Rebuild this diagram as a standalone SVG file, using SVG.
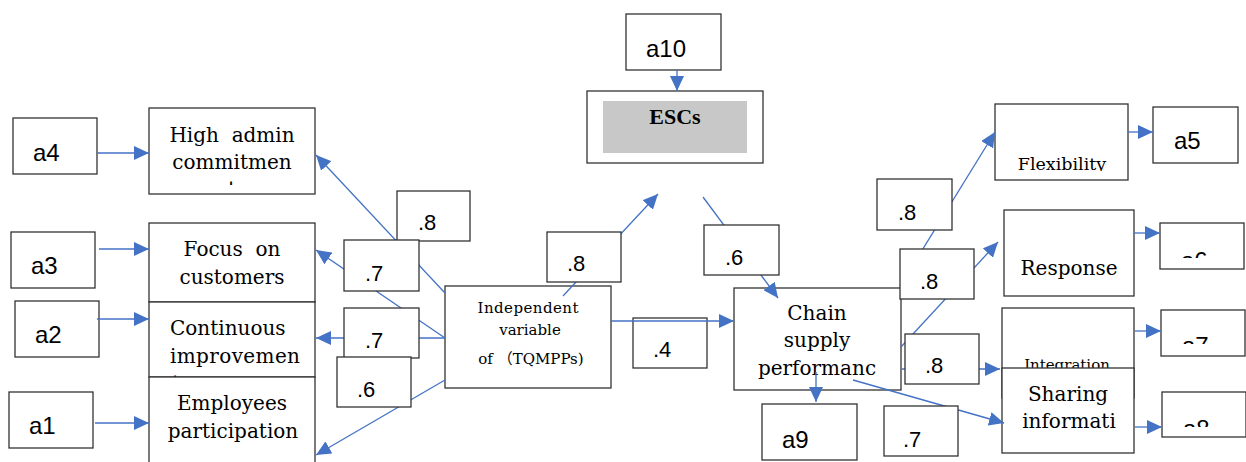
<svg xmlns="http://www.w3.org/2000/svg" width="1246" height="462" viewBox="0 0 1246 462">
<style>
.box{fill:#fff;stroke:#333;stroke-width:1.3}
.nf{fill:none;stroke:#333;stroke-width:1.3}
.serif{font-family:"DejaVu Serif","Liberation Serif","Noto Sans CJK SC",serif;fill:#000;font-size:20px}
.sm{font-size:15px}
.md{font-size:17.5px}
.ctr{text-anchor:middle}
.sans{font-family:"Liberation Sans",Arial,sans-serif;font-size:24px;fill:#000}
.lbl{font-family:"Liberation Sans",Arial,sans-serif;font-size:22px;fill:#000}
.conn{stroke:#4472C4;stroke-width:1.3;fill:none}
.arr{marker-end:url(#ah)}
</style>
<defs>
<marker id="ah" markerUnits="userSpaceOnUse" markerWidth="16" markerHeight="14" refX="15" refY="7" orient="auto">
<path d="M0,0 L15,7 L0,14 z" fill="#4472C4"/>
</marker>
<clipPath id="cFlex"><rect x="995" y="104" width="133" height="67"/></clipPath>
<clipPath id="cA6"><rect x="1160" y="223" width="84" height="35"/></clipPath>
<clipPath id="cA7"><rect x="1161" y="310" width="84" height="34"/></clipPath>
<clipPath id="cA8"><rect x="1162" y="392" width="84" height="35"/></clipPath>
<clipPath id="cHigh"><rect x="149" y="108" width="166" height="77"/></clipPath>
<clipPath id="cCont"><rect x="149" y="302" width="166" height="75"/></clipPath>
</defs>
<rect width="1246" height="462" fill="#fff"/>

<g id="nodes">
<g id="a4"><rect class="box" x="13" y="118" width="84" height="56"/><text class="sans" x="33" y="161">a4</text></g>
<g id="a3"><rect class="box" x="11" y="232" width="84" height="56"/><text class="sans" x="31" y="274">a3</text></g>
<g id="a2"><rect class="box" x="15" y="301" width="84" height="56"/><text class="sans" x="35" y="343">a2</text></g>
<g id="a1"><rect class="box" x="9" y="392" width="84" height="56"/><text class="sans" x="29" y="434">a1</text></g>
<g id="high-admin"><rect class="box" x="149" y="108" width="166" height="86"/>
<text class="serif ctr" x="232" y="142" xml:space="preserve">High  admin</text>
<text class="serif ctr" x="232" y="169">commitmen</text>
<text class="serif ctr" x="232" y="196" clip-path="url(#cHigh)">t</text></g>
<g id="focus"><rect class="box" x="149" y="223" width="166" height="79"/>
<text class="serif ctr" x="232" y="256" xml:space="preserve">Focus  on</text>
<text class="serif ctr" x="232" y="284">customers</text></g>
<g id="continuous"><rect class="box" x="149" y="302" width="166" height="75"/>
<text class="serif" x="170" y="335">Continuous</text>
<text class="serif" x="170" y="363" textLength="130">improvemen</text>
<text class="serif" x="172" y="390" clip-path="url(#cCont)">t</text></g>
<g id="employees"><rect class="box" x="149" y="377" width="166" height="100"/>
<text class="serif ctr" x="232" y="410">Employees</text>
<text class="serif ctr" x="233" y="438">participation</text></g>
<g id="independent"><rect class="box" x="445" y="286" width="166" height="102"/>
<text class="serif sm ctr" x="528" y="313" textLength="101">Independent</text>
<text class="serif sm ctr" x="530" y="335">variable</text>
<text class="serif sm ctr" x="531" y="364">of （TQMPPs)</text></g>
<g id="a10"><rect class="box" x="626" y="14" width="95" height="56"/><text class="sans" x="646" y="57">a10</text></g>
<g id="escs"><rect class="box" x="587" y="91" width="176" height="72"/>
<rect x="603" y="101" width="144" height="52" fill="#C8C8C8"/>
<text x="675" y="124" text-anchor="middle" font-family="'Liberation Serif',serif" font-weight="bold" font-size="22">ESCs</text></g>
<g id="chain"><rect class="box" x="734" y="288" width="167" height="102"/>
<text class="serif ctr" x="817" y="320">Chain</text>
<text class="serif ctr" x="817" y="347">supply</text>
<text class="serif ctr" x="817" y="375">performanc</text></g>
<g id="a9"><rect class="box" x="762" y="404" width="95" height="56"/><text class="sans" x="782" y="448">a9</text></g>
<g id="flexibility"><rect class="box" x="995" y="104" width="133" height="76"/>
<text class="serif md ctr" x="1062" y="170" clip-path="url(#cFlex)">Flexibility</text></g>
<g id="a5"><rect class="box" x="1153" y="107" width="85" height="56"/><text class="sans" x="1174" y="149">a5</text></g>
<g id="response"><rect class="box" x="1004" y="210" width="130" height="86"/>
<text class="serif ctr" x="1069" y="275" font-size="18">Response</text></g>
<g id="a6"><rect class="box" x="1160" y="223" width="84" height="46"/><text class="sans" x="1181" y="269" clip-path="url(#cA6)">a6</text></g>
<g id="integration"><rect class="box" x="1002" y="308" width="132" height="90"/>
<text class="serif sm ctr" x="1067" y="370">Integration</text></g>
<g id="sharing"><rect class="box" x="1002" y="368" width="132" height="85"/>
<text class="serif ctr" x="1068" y="401">Sharing</text>
<text class="serif ctr" x="1069" y="428">informati</text></g>
<g id="a7"><rect class="box" x="1161" y="310" width="84" height="46"/><text class="sans" x="1182" y="354" clip-path="url(#cA7)">a7</text></g>
<g id="a8"><rect class="box" x="1162" y="392" width="84" height="45"/><text class="sans" x="1183" y="437" clip-path="url(#cA8)">a8</text></g>
</g>

<g id="label-04"><rect class="nf" x="633" y="318" width="74" height="50"/><text class="lbl" x="653" y="357">.4</text></g>

<g id="connectors">
<line class="conn arr" x1="97" y1="153" x2="149" y2="153"/>
<line class="conn arr" x1="99" y1="249" x2="149" y2="249"/>
<line class="conn arr" x1="97" y1="319" x2="149" y2="319"/>
<line class="conn arr" x1="95" y1="423" x2="149" y2="423"/>
<line class="conn arr" x1="445" y1="293" x2="316" y2="155"/>
<line class="conn arr" x1="445" y1="338" x2="316" y2="250"/>
<line class="conn arr" x1="445" y1="338" x2="316" y2="338"/>
<line class="conn arr" x1="445" y1="380" x2="316" y2="455"/>
<line class="conn arr" x1="563" y1="296" x2="658" y2="194"/>
<line class="conn arr" x1="677" y1="70" x2="677" y2="91"/>
<line class="conn arr" x1="703" y1="197" x2="778" y2="298"/>
<line class="conn arr" x1="611" y1="321" x2="734" y2="321"/>
<line class="conn arr" x1="816" y1="372" x2="816" y2="402"/>
<line class="conn arr" x1="853" y1="380" x2="1004" y2="423"/>
<line class="conn arr" x1="900" y1="286" x2="995" y2="132"/>
<line class="conn arr" x1="901" y1="347" x2="998" y2="242"/>
<line class="conn arr" x1="901" y1="369" x2="1000" y2="369"/>
<line class="conn arr" x1="1128" y1="132" x2="1153" y2="132"/>
<line class="conn arr" x1="1134" y1="233" x2="1160" y2="233"/>
<line class="conn arr" x1="1135" y1="331" x2="1161" y2="331"/>
<line class="conn arr" x1="1135" y1="427" x2="1162" y2="427"/>
</g>

<g id="labels">
<g id="label-high"><rect class="box" x="397" y="191" width="73" height="50"/><text class="lbl" x="418" y="230">.8</text></g>
<g id="label-focus"><rect class="box" x="344" y="240" width="75" height="51"/><text class="lbl" x="365" y="281">.7</text></g>
<g id="label-cont"><rect class="box" x="344" y="308" width="75" height="50"/><text class="lbl" x="365" y="348">.7</text></g>
<g id="label-emp"><rect class="box" x="337" y="357" width="74" height="50"/><text class="lbl" x="357" y="397">.6</text></g>
<g id="label-escs"><rect class="box" x="547" y="232" width="74" height="50"/><text class="lbl" x="567" y="271">.8</text></g>
<g id="label-chain"><rect class="box" x="704" y="225" width="75" height="50"/><text class="lbl" x="725" y="265">.6</text></g>
<g id="label-flex"><rect class="box" x="877" y="179" width="75" height="51"/><text class="lbl" x="898" y="220">.8</text></g>
<g id="label-resp"><rect class="box" x="900" y="249" width="74" height="50"/><text class="lbl" x="920" y="289">.8</text></g>
<g id="label-int"><rect class="box" x="905" y="334" width="74" height="50"/><text class="lbl" x="925" y="373">.8</text></g>
<g id="label-share"><rect class="box" x="884" y="406" width="74" height="50"/><text class="lbl" x="903" y="447">.7</text></g>
</g>
</svg>
